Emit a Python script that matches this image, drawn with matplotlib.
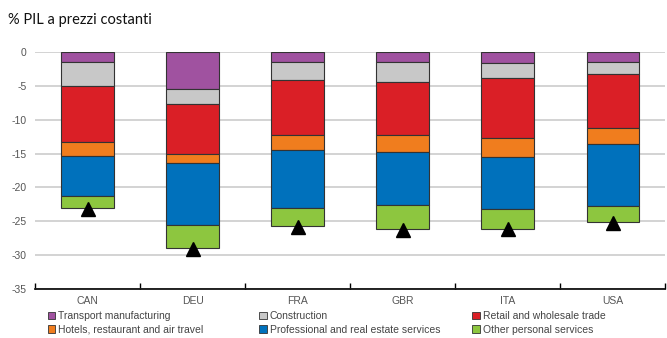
import matplotlib
matplotlib.use("Agg")
import matplotlib.pyplot as plt
from matplotlib.patches import Patch
import numpy as np

countries = ["CAN", "DEU", "FRA", "GBR", "ITA", "USA"]
sectors = ["Transport manufacturing", "Construction", "Retail and wholesale trade",
           "Hotels, restaurant and air travel", "Professional and real estate services",
           "Other personal services"]
colors = ["#A052A0", "#C8C8C8", "#DA1F26", "#F07D1E", "#0071BC", "#8DC63F"]

transport = [-1.4, -5.5, -1.4, -1.5, -1.6, -1.5]
construction = [-3.6, -2.2, -2.7, -2.9, -2.2, -1.7]
retail = [-8.3, -7.3, -8.2, -7.8, -8.9, -8.0]
hotels = [-2.0, -1.4, -2.1, -2.5, -2.8, -2.4]
professional = [-5.9, -9.1, -8.7, -7.9, -7.7, -9.1]
other = [-1.9, -3.5, -2.6, -3.6, -2.9, -2.4]
total = [-23.2, -29.1, -25.8, -26.3, -26.2, -25.2]

series = [transport, construction, retail, hotels, professional, other]

narrow = ["Liberation Sans Narrow", "Liberation Sans", "DejaVu Sans"]
fig = plt.figure(figsize=(6.67, 3.38), dpi=100)
ax = fig.add_axes([0.0525, 0.145, 0.945, 0.701])

x = np.arange(len(countries))
bottom = np.zeros(len(countries))
for vals, c in zip(series, colors):
    ax.bar(x, vals, width=0.5, bottom=bottom, color=c, edgecolor="#333333", linewidth=0.8, zorder=3)
    bottom += np.array(vals)

ax.plot(x, total, linestyle="none", marker="^", color="black", markersize=10, zorder=4)

ax.set_ylim(-35, 0)
ax.set_xlim(-0.5, 5.5)
ax.set_yticks(np.arange(-35, 1, 5))
ax.set_yticklabels([str(v) for v in range(-35, 1, 5)])
for lab in ax.get_yticklabels():
    lab.set_family(narrow)
    lab.set_fontsize(7.5)
    lab.set_color("#555555")
ax.yaxis.grid(True, color="#cccccc", linewidth=1.2, zorder=0)
ax.tick_params(axis="y", length=0, pad=6)

ax.set_xticks(np.arange(-0.5, 6, 1))
ax.set_xticklabels([])
ax.tick_params(axis="x", direction="in", length=4, width=1, color="black")
for xi, name in zip(x, countries):
    ax.text(xi, -0.028, name, transform=ax.get_xaxis_transform(), ha="center", va="top",
            fontsize=7.5, family=narrow, color="#555555")

for s in ["top", "right", "left"]:
    ax.spines[s].set_visible(False)
ax.spines["bottom"].set_linewidth(1.2)

fig.text(0.012, 0.93, "% PIL a prezzi costanti", fontsize=10.5, family="Lato", color="#111111")

xpos = [0.072, 0.389, 0.708]
for i in range(3):
    handles = [Patch(facecolor=colors[i], edgecolor="#333333", linewidth=0.6),
               Patch(facecolor=colors[i + 3], edgecolor="#333333", linewidth=0.6)]
    fig.legend(handles, [sectors[i], sectors[i + 3]], loc="upper left",
               bbox_to_anchor=(xpos[i], 0.08), frameon=False,
               prop={"family": narrow, "size": 7.5}, handlelength=0.7, handleheight=0.7,
               handletextpad=0.3, labelspacing=0.35, borderpad=0, borderaxespad=0,
               labelcolor="#444444")

fig.savefig("out.png", dpi=100)
